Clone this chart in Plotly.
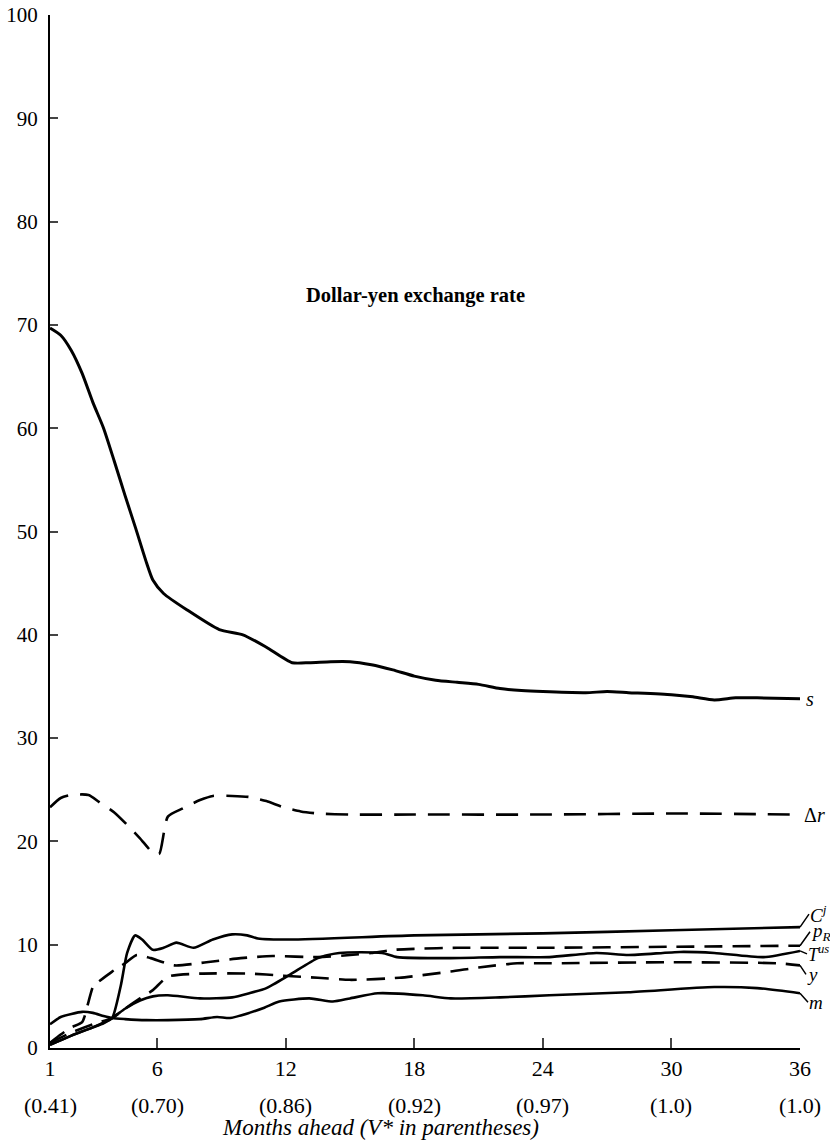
import plotly.graph_objects as go

# ---- data ----
s_x = [1, 1.5, 2, 2.5, 3, 3.5, 4, 4.5, 5, 5.5, 5.8, 6.3, 7.4, 8.9, 10, 11.1, 12.3, 13.1, 14.1, 15, 16, 17, 18, 19, 20, 21, 22, 23, 24, 26, 27, 28, 30, 31, 32, 33, 34, 36]
s_y = [69.7, 69, 67.5, 65.3, 62.5, 60, 56.8, 53.5, 50.3, 47, 45.3, 44.0, 42.4, 40.5, 40.0, 38.8, 37.3, 37.3, 37.4, 37.4, 37.1, 36.6, 36.0, 35.6, 35.4, 35.2, 34.8, 34.6, 34.5, 34.4, 34.5, 34.4, 34.2, 34.0, 33.7, 33.9, 33.9, 33.8]

dr_x = [1, 1.5, 2, 2.8, 3.3, 4, 4.6, 5.2, 5.85, 6.1, 6.5, 7.2, 8, 8.6, 9.5, 10.3, 11.1, 11.9, 12.7, 13.5, 15, 18, 24, 30, 36]
dr_y = [23.3, 24.2, 24.5, 24.5, 23.8, 22.8, 21.6, 20.3, 18.8, 18.8, 22.4, 23.2, 24.0, 24.4, 24.4, 24.3, 23.9, 23.3, 22.9, 22.7, 22.6, 22.6, 22.6, 22.7, 22.6]

cj_x = [1, 2, 3, 3.5, 3.9, 4.3, 4.6, 4.97, 5.3, 5.8, 6.3, 6.9, 7.7, 8.6, 9.5, 10.2, 10.7, 12.2, 18, 24, 30, 36]
cj_y = [0.3, 1.2, 2.0, 2.4, 2.9, 6.0, 9.2, 10.9, 10.5, 9.5, 9.7, 10.2, 9.7, 10.5, 11.0, 10.9, 10.6, 10.5, 10.9, 11.1, 11.4, 11.7]

pr_x = [1, 1.5, 2, 2.5, 2.8, 3.0, 3.2, 3.9, 4.5, 5.05, 5.7, 6.8, 8.3, 9.9, 11.4, 13.5, 15, 16, 17, 18, 20, 24, 30, 36]
pr_y = [0.5, 1.3, 2.0, 2.5, 4.5, 5.9, 6.3, 7.4, 8.2, 9.0, 8.7, 8.0, 8.3, 8.7, 8.9, 8.8, 9.0, 9.2, 9.5, 9.6, 9.7, 9.7, 9.8, 9.9]

tus_x = [1, 2, 3, 3.9, 4.5, 5.2, 5.8, 6.5, 8, 9.5, 10.3, 11.1, 12.2, 13.5, 14.5, 16.5, 17.2, 19.7, 22, 24.3, 26.5, 28, 30.4, 32, 34.3, 36]
tus_y = [0.3, 1.2, 2.0, 2.9, 3.8, 4.6, 5.0, 5.1, 4.8, 4.9, 5.3, 5.8, 7.1, 8.7, 9.2, 9.2, 8.8, 8.7, 8.8, 8.8, 9.2, 9.0, 9.3, 9.2, 8.8, 9.4]

yy_x = [1, 2, 3, 3.9, 4.5, 5.2, 5.8, 6.5, 8, 10.3, 11.9, 13.5, 15, 17.3, 19.7, 21, 22.8, 24.3, 30, 35, 36]
yy_y = [0.5, 1.5, 2.3, 2.9, 3.8, 4.8, 5.6, 6.9, 7.2, 7.2, 7.0, 6.8, 6.6, 6.8, 7.4, 7.8, 8.2, 8.2, 8.3, 8.2, 8.0]

m_x = [1, 1.5, 2, 2.5, 3, 3.5, 3.9, 4.5, 5.5, 6.5, 8, 8.8, 9.4, 10.3, 11, 11.7, 13.1, 14.2, 15, 16.3, 18.4, 19.7, 22, 24.3, 28, 32, 34, 36]
m_y = [2.3, 3.0, 3.3, 3.5, 3.4, 3.1, 2.9, 2.8, 2.7, 2.7, 2.8, 3.0, 2.9, 3.4, 3.9, 4.5, 4.8, 4.5, 4.8, 5.3, 5.1, 4.8, 4.9, 5.1, 5.4, 5.9, 5.8, 5.3]

x_ticks = [1, 6, 12, 18, 24, 30, 36]
x_labels = ["1", "6", "12", "18", "24", "30", "36"]
v_star = ["(0.41)", "(0.70)", "(0.86)", "(0.92)", "(0.97)", "(1.0)", "(1.0)"]
y_ticks = [0, 10, 20, 30, 40, 50, 60, 70, 80, 90, 100]

FONT = "Liberation Serif"

series = [
    (s_x, s_y, "solid", 3),
    (dr_x, dr_y, "22px,12px", 2.6),
    (cj_x, cj_y, "solid", 2.6),
    (pr_x, pr_y, "18px,10px", 2.6),
    (tus_x, tus_y, "solid", 2.6),
    (yy_x, yy_y, "18px,10px", 2.6),
    (m_x, m_y, "solid", 2.6),
]

fig = go.Figure()
for xs, ys, dash, w in series:
    fig.add_trace(go.Scatter(x=xs, y=ys, mode="lines",
                             line=dict(color="black", width=w, dash=dash, shape="spline", smoothing=0.6),
                             showlegend=False, hoverinfo="skip"))

ann = []
# series labels
ann.append(dict(x=s_x[-1], y=s_y[-1], xref="x", yref="y", text="<i>s</i>", showarrow=False,
                xanchor="left", xshift=4, font=dict(size=20, family=FONT)))
ann.append(dict(x=dr_x[-1], y=dr_y[-1], xref="x", yref="y", text="Δ<i>r</i>", showarrow=False,
                xanchor="left", xshift=2, font=dict(size=20, family=FONT)))

lead = [
    (cj_x[-1], cj_y[-1], "<i>C<sup>j</sup></i>", 9, -13, 19),
    (pr_x[-1], pr_y[-1], "<i>p<sub>R</sub></i>", 10, -14, 19),
    (tus_x[-1], tus_y[-1], "<i>T<sup>us</sup></i>", 7, 3, 18),
    (yy_x[-1], yy_y[-1], "<i>y</i>", 6, 9, 19),
    (m_x[-1], m_y[-1], "<i>m</i>", 8, 9, 19),
]
for x, y, t, ax, ay, fs in lead:
    ann.append(dict(x=x, y=y, xref="x", yref="y", text=t, showarrow=True, arrowhead=0,
                    arrowwidth=1.5, arrowcolor="black", ax=ax, ay=ay, xanchor="left",
                    yanchor="middle", borderpad=0, font=dict(size=fs, family=FONT)))

for xv, lab in zip(x_ticks, v_star):
    ann.append(dict(x=xv, y=0, xref="x", yref="paper", text=lab, showarrow=False,
                    yanchor="middle", yshift=-57, font=dict(size=22, family=FONT)))

ann.append(dict(x=0.44, y=0, xref="paper", yref="paper", text="<i>Months ahead (V* in parentheses)</i>",
                showarrow=False, yanchor="middle", yshift=-79, font=dict(size=23, family=FONT)))
ann.append(dict(x=0.487, y=0.7415, xref="paper", yref="paper", text="<b>Dollar-yen exchange rate</b>",
                showarrow=False, font=dict(size=20.5, family=FONT)))

fig.update_layout(
    width=830, height=1140,
    margin=dict(l=50, r=30, t=15, b=92, autoexpand=False),
    plot_bgcolor="white", paper_bgcolor="white",
    font=dict(family=FONT, color="black", size=20),
    annotations=ann,
    xaxis=dict(range=[1, 36], tickvals=x_ticks, ticktext=x_labels, ticks="inside", ticklen=10,
               tickwidth=1.5, showline=True, linewidth=2, linecolor="black", showgrid=False,
               zeroline=False, tickfont=dict(size=22, family=FONT), ticklabelstandoff=0,
               automargin=False, ticklabeloverflow="allow"),
    yaxis=dict(range=[0, 100], tickvals=y_ticks, ticks="inside", ticklen=8, tickwidth=2,
               showline=True, linewidth=2, linecolor="black", showgrid=False, zeroline=False,
               tickfont=dict(size=21, family=FONT), ticklabelstandoff=6, automargin=False,
               ticklabeloverflow="allow"),
)

# remove the default 8px page margin so the 830x1140 figure fills the window exactly
fig.write_html("out.html", config={"displayModeBar": False},
               post_script="document.body.style.margin='0';document.body.style.overflow='hidden';")
